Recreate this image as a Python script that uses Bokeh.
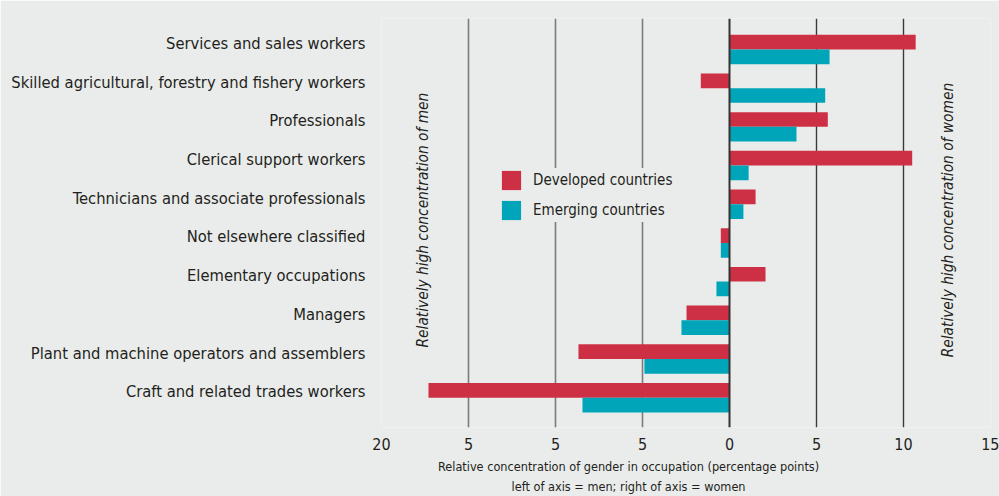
import numpy as np
from bokeh.plotting import figure
from bokeh.models import (FixedTicker, Grid, Label, Legend, LegendItem, Span,
                          ColumnDataSource, Range1d, LinearAxis,
                          CustomJSTickFormatter)
from bokeh.embed import file_html
from bokeh.resources import INLINE

# ---- data (top to bottom) ----
occupations = [
    "Services and sales workers",
    "Skilled agricultural, forestry and fishery workers",
    "Professionals",
    "Clerical support workers",
    "Technicians and associate professionals",
    "Not elsewhere classified",
    "Elementary occupations",
    "Managers",
    "Plant and machine operators and assemblers",
    "Craft and related trades workers",
]
developed = [10.7, -1.65, 5.65, 10.5, 1.5, -0.5, 2.07, -2.47, -8.68, -17.3]
emerging = [5.75, 5.5, 3.85, 1.1, 0.8, -0.5, -0.75, -2.76, -4.89, -8.45]
series_names = ["Developed countries", "Emerging countries"]
x_ticks = [-20, -15, -10, -5, 0, 5, 10, 15]
x_tick_labels = ["20", "5", "5", "5", "0", "5", "10", "15"]
x_title = ["Relative concentration of gender in occupation (percentage points)",
           "left of axis = men; right of axis = women"]
side_notes = ["Relatively high concentration of men",
              "Relatively high concentration of women"]

# ---- style ----
BG = "#eaeceb"
RED = "#cd3045"
TEAL = "#00a5b9"
TXT = "#231f20"
FONT = "DejaVu Sans Condensed"

n = len(occupations)
ypos = [n - 1 - i for i in range(n)]
bar_h = 0.38
label_shift = 0.155
src = ColumnDataSource(dict(
    y_dev=[y + bar_h / 2 for y in ypos],
    y_em=[y - bar_h / 2 for y in ypos],
    dev=developed, em=emerging,
))

p = figure(width=999, height=496,
           x_range=Range1d(-20, 15), y_range=Range1d(-0.77, 9.80),
           output_backend="svg", toolbar_location=None,
           min_border_left=381, min_border_right=9,
           min_border_top=18, min_border_bottom=68)
p.background_fill_color = BG
p.border_fill_color = BG
p.outline_line_color = None
p.xgrid.visible = False
p.ygrid.visible = False

# grid lines
g1 = Grid(dimension=0, ticker=FixedTicker(ticks=[-15, -10, -5]),
          grid_line_color="#7b7b7b", grid_line_width=1.6)
g2 = Grid(dimension=0, ticker=FixedTicker(ticks=[-20, 5, 10, 15]),
          grid_line_color="#3a3a3a", grid_line_width=1.4)
p.add_layout(g1)
p.add_layout(g2)

r_dev = p.hbar(y="y_dev", left=0, right="dev", height=bar_h, source=src,
               fill_color=RED, line_color=None)
r_em = p.hbar(y="y_em", left=0, right="em", height=bar_h, source=src,
              fill_color=TEAL, line_color=None)

p.add_layout(Span(location=0, dimension="height", line_color="#333333",
                  line_width=2, level="overlay"))

# x axis
p.xaxis.ticker = FixedTicker(ticks=x_ticks)
p.xaxis.major_label_overrides = {t: l for t, l in zip(x_ticks, x_tick_labels)}
p.xaxis.axis_line_color = None
p.xaxis.major_tick_line_color = None
p.xaxis.minor_tick_line_color = None
p.xaxis.major_tick_out = 0
p.xaxis.major_tick_in = 0
p.xaxis.minor_tick_out = 0
p.xaxis.major_label_standoff = 10
p.xaxis.major_label_text_font = FONT
p.xaxis.major_label_text_font_size = "16px"
p.xaxis.major_label_text_color = TXT

# y axis: labels sit slightly above the bar-pair centre
p.yaxis.ticker = FixedTicker(ticks=[y + label_shift for y in ypos])
p.yaxis.formatter = CustomJSTickFormatter(
    args=dict(labels=occupations, n=n),
    code="return labels[n - 1 - Math.round(tick)];")
p.yaxis.axis_line_color = None
p.yaxis.major_tick_line_color = None
p.yaxis.minor_tick_line_color = None
p.yaxis.major_tick_out = 0
p.yaxis.minor_tick_out = 0
p.yaxis.major_label_standoff = 16
p.yaxis.major_label_text_font = FONT
p.yaxis.major_label_text_font_size = "16.4px"
p.yaxis.major_label_text_color = TXT

# x-axis title as two extra label-only axes (centred under x = title_x)
title_x = -5.8
for i, line in enumerate(x_title):
    ax = LinearAxis(ticker=FixedTicker(ticks=[title_x]),
                    major_label_overrides={title_x: line},
                    axis_line_color=None, major_tick_line_color=None,
                    minor_tick_line_color=None,
                    major_tick_out=0, major_tick_in=0, minor_tick_out=0,
                    major_label_standoff=6 if i == 0 else 2,
                    major_label_text_font=FONT,
                    major_label_text_font_size="12.6px",
                    major_label_text_color=TXT)
    p.add_layout(ax, "below")

# legend
legend = Legend(items=[LegendItem(label=series_names[0], renderers=[r_dev]),
                       LegendItem(label=series_names[1], renderers=[r_em])],
                location=(118, 205), orientation="vertical",
                background_fill_color=BG, background_fill_alpha=1.0,
                border_line_color=None, glyph_width=24, glyph_height=24,
                label_height=24, spacing=6, padding=6, margin=0,
                label_standoff=10, label_text_font=FONT,
                label_text_font_size="15px", label_text_color=TXT)
p.add_layout(legend)

# side notes
for xv, txt in zip([-17.59, 12.56], side_notes):
    p.add_layout(Label(x=xv, y=4.59, text=txt, angle=np.pi / 2,
                       text_align="center", text_baseline="middle",
                       text_font=FONT, text_font_style="italic",
                       text_font_size="15.3px", text_color=TXT))

open("out.html", "w").write(file_html(p, INLINE))
